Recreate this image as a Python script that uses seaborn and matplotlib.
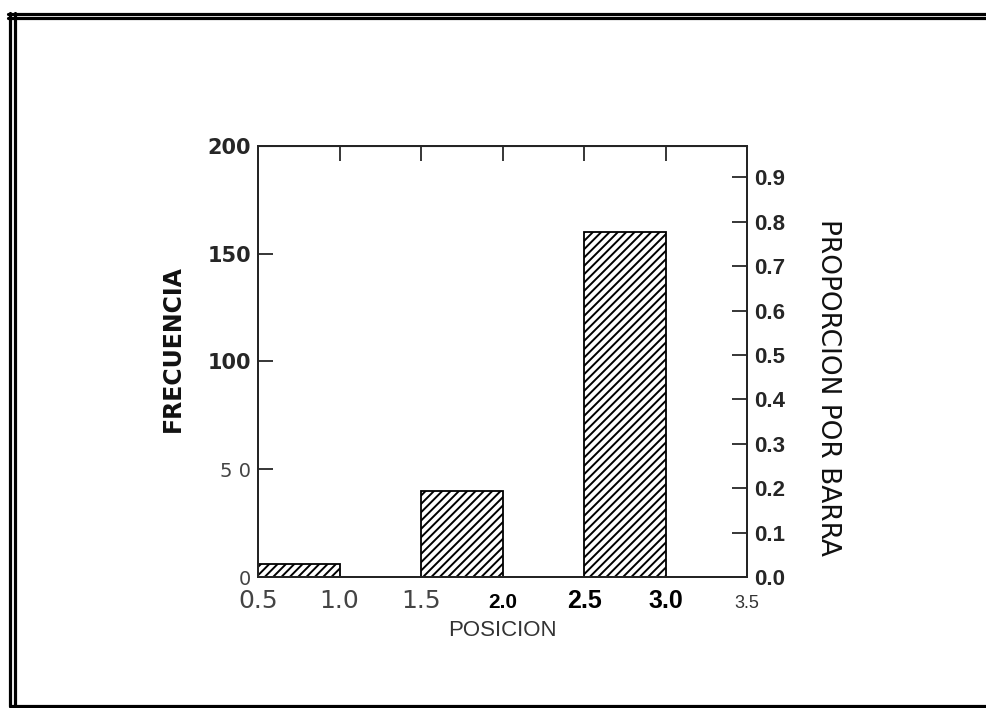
import seaborn as sns
import matplotlib.pyplot as plt
from matplotlib.lines import Line2D

# bar centres and counts
posicion = [0.75, 1.75, 2.75]
frecuencia = [6, 40, 160]
bordes = [0.5, 1.0, 1.5, 2.0, 2.5, 3.0, 3.5]
yticks_izq = [0, 50, 100, 150, 200]
ylabels_izq = ["0", "5 0", "100", "150", "200"]
xlabels = ["0.5", "1.0", "1.5", "2.0", "2.5", "3.0", "3.5"]
yticks_der = [0.0, 0.1, 0.2, 0.3, 0.4, 0.5, 0.6, 0.7, 0.8, 0.9]

sns.set_style("ticks")
plt.rcParams['font.family'] = ['Liberation Sans', 'DejaVu Sans']
plt.rcParams['hatch.linewidth'] = 1.4

fig = plt.figure(figsize=(9.87, 7.08), dpi=100)
ax = fig.add_axes([0.2614, 0.185, 0.4955, 0.609])

# histogram with hatched bars
sns.histplot(x=posicion, weights=frecuencia, bins=bordes, stat="count",
             color="white", edgecolor="black", linewidth=1.3, hatch="////",
             alpha=1, ax=ax)

ax.set_xlim(0.5, 3.5)
ax.set_ylim(0, 200)
for s in ax.spines.values():
    s.set_linewidth(1.4)
    s.set_color("black")

# left axis ticks (pointing inwards)
ax.set_yticks(yticks_izq)
ax.set_yticklabels(ylabels_izq)
ax.tick_params(axis="y", direction="in", length=11, width=1.3, pad=5, left=True)
for lab, txt in zip(ax.get_yticklabels(), ylabels_izq):
    lab.set_family("DejaVu Sans")
    if txt in ("0", "5 0"):
        lab.set_fontsize(14)
        lab.set_color("#444444")
    else:
        lab.set_fontsize(15)
        lab.set_fontweight("bold")
ax.set_ylabel("FRECUENCIA", fontsize=17, fontweight="semibold", family="DejaVu Sans",
              color="#111111")
ax.yaxis.set_label_coords(-0.15, 0.53)

# bottom tick labels (mixed fonts, common baseline), no visible ticks
ax.set_xticks(bordes)
ax.set_xticklabels(xlabels)
ax.tick_params(axis="x", bottom=True, length=0, pad=22, top=False)
estilos = [("DejaVu Sans", 18, "normal", "#444444"),
           ("DejaVu Sans", 18, "normal", "#444444"),
           ("DejaVu Sans", 18, "normal", "#444444"),
           ("Liberation Sans", 15, "bold", "black"),
           ("Liberation Sans", 18, "bold", "black"),
           ("Liberation Sans", 18, "bold", "black"),
           ("Liberation Sans", 13, "normal", "#333333")]
for lab, (fam, fs, fw, c) in zip(ax.get_xticklabels(), estilos):
    lab.set_family(fam)
    lab.set_fontsize(fs)
    lab.set_fontweight(fw)
    lab.set_color(c)
    lab.set_verticalalignment("baseline")
ax.set_xlabel("POSICION", fontsize=16, color="#333333", labelpad=5)

# top ticks
top = ax.secondary_xaxis("top")
top.set_xticks(bordes[1:-1])
top.set_xticklabels([])
top.tick_params(direction="in", length=11, width=1.3)

# right axis: proportion per bar
total = sum(frecuencia)
ax2 = ax.twinx()
ax2.set_ylim(0, 200 / total)
ax2.set_yticks(yticks_der)
ax2.set_yticklabels([f"{v:.1f}" for v in yticks_der], fontsize=16, fontweight="bold")
ax2.tick_params(axis="y", direction="in", length=11, width=1.3, pad=5)
ax2.set_ylabel("PROPORCION POR BARRA", fontsize=19, family="DejaVu Sans",
               rotation=-90, va="center", color="#111111")
ax2.yaxis.set_label_coords(1.166, 0.44)
for s in ax2.spines.values():
    s.set_linewidth(1.4)

# double frame around the figure
for y in (1 - 13.5 / 708, 1 - 17.5 / 708):
    fig.add_artist(Line2D([0.008, 1.0], [y, y], color="black", lw=2.3))
for x in (10 / 987, 15 / 987):
    fig.add_artist(Line2D([x, x], [1 - 13 / 708, 2 / 708], color="black", lw=2.3))
fig.add_artist(Line2D([10 / 987, 1.0], [2.5 / 708, 2.5 / 708], color="black", lw=2.3))

fig.savefig("out.png", dpi=100)
